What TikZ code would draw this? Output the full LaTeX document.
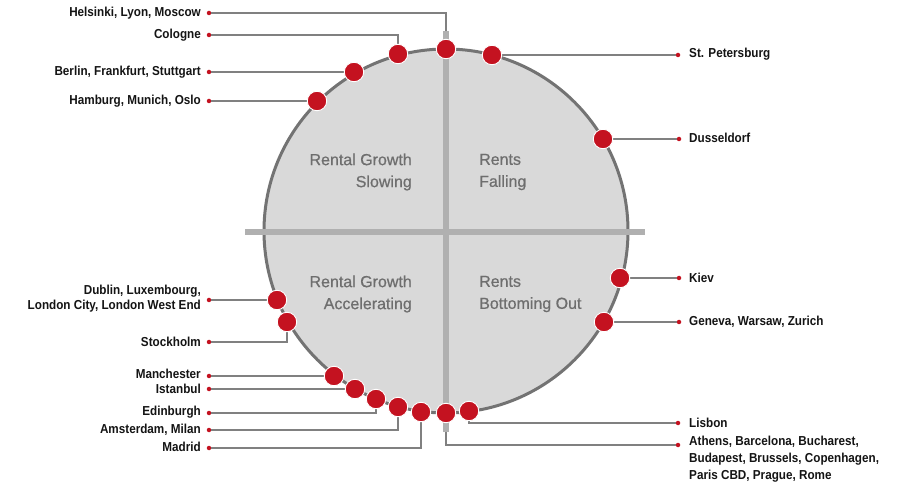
\documentclass[tikz,border=0pt]{standalone}
\usepackage{fontspec}
\setmainfont{Liberation Sans}
\newfontfamily\lblfont{Liberation Sans}[FakeStretch=0.9]
\newfontfamily\quadfont{Liberation Sans}[FakeBold=0.7]
\definecolor{dotred}{RGB}{196,18,32}
\definecolor{circfill}{RGB}{217,217,217}
\definecolor{circline}{RGB}{115,115,115}
\definecolor{barcol}{RGB}{176,176,176}
\definecolor{linecol}{RGB}{128,128,128}
\definecolor{quadtext}{RGB}{110,110,110}
\definecolor{lbltext}{RGB}{20,20,20}
\tikzset{
  bigdot/.style={circle,fill=dotred,draw=white,line width=0.9pt,minimum size=19.5pt,inner sep=0pt},
  smalldot/.style={circle,fill=dotred,minimum size=4.5pt,inner sep=0pt},
  conn/.style={draw=linecol,line width=1.4pt},
  lblL/.style={anchor=east,inner sep=0pt,align=right,text=lbltext,font=\fontsize{13}{15.5}\selectfont\lblfont\bfseries},
  lblR/.style={anchor=west,inner sep=0pt,align=left,text=lbltext,font=\fontsize{13}{17}\selectfont\lblfont\bfseries},
  quad/.style={inner sep=0pt,text=quadtext,font=\fontsize{16}{22}\selectfont\quadfont},
  bar/.style={draw=barcol,line width=6pt},
  outline/.style={draw=circline,line width=3pt}
}
\begin{document}
\begin{tikzpicture}[x=1pt,y=-1pt]
\useasboundingbox[fill=white] (0,0) rectangle (914,497);
% circle
\coordinate (C) at (446,231);
\fill[circfill] (C) circle[radius=182];
\draw[outline] (C) circle[radius=182];
% bars
\coordinate (vtop) at (446,31);
\coordinate (vbot) at (446,432);
\coordinate (hl) at (245,232);
\coordinate (hr) at (645,232);
\draw[bar] (vtop) -- (vbot);
\draw[bar] (hl) -- (hr);
% quadrant labels
\node[quad,anchor=east,align=right] (q1) at (412,172) {Rental Growth\\Slowing};
\node[quad,anchor=west,align=left] (q2) at (479,172) {Rents\\Falling};
\node[quad,anchor=east,align=right] (q3) at (412,294) {Rental Growth\\Accelerating};
\node[quad,anchor=west,align=left] (q4) at (479,294) {Rents\\Bottoming Out};
% dot positions on circle
\coordinate (pHel) at (446,49);
\coordinate (pCol) at (398,54);
\coordinate (pBer) at (354,72);
\coordinate (pHam) at (317,101);
\coordinate (pStp) at (492,55);
\coordinate (pDus) at (603,139);
\coordinate (pKie) at (620,278);
\coordinate (pGen) at (604,322);
\coordinate (pDub) at (277,300);
\coordinate (pSto) at (287,322);
\coordinate (pMan) at (334,376);
\coordinate (pIst) at (355,389);
\coordinate (pEdi) at (376,399);
\coordinate (pAms) at (398,407);
\coordinate (pMad) at (421,412);
\coordinate (pAth) at (446,413);
\coordinate (pLis) at (469,411);
% label dots, left
\node[smalldot] (dHel) at (209,13) {};
\node[smalldot] (dCol) at (209,35) {};
\node[smalldot] (dBer) at (209,72) {};
\node[smalldot] (dHam) at (209,101) {};
\node[smalldot] (dDub) at (209,300) {};
\node[smalldot] (dSto) at (209,342) {};
\node[smalldot] (dMan) at (209,376) {};
\node[smalldot] (dIst) at (209,389) {};
\node[smalldot] (dEdi) at (209,413) {};
\node[smalldot] (dAms) at (209,430) {};
\node[smalldot] (dMad) at (209,448) {};
% label dots, right
\node[smalldot] (dStp) at (678,55) {};
\node[smalldot] (dDus) at (679,139) {};
\node[smalldot] (dKie) at (679,278) {};
\node[smalldot] (dGen) at (679,322) {};
\node[smalldot] (dLis) at (678,423) {};
\node[smalldot] (dAth) at (678,445) {};
% connectors
\draw[conn] (dHel) -| (vtop);
\draw[conn] (dCol) -| (pCol);
\draw[conn] (dBer) -- (pBer);
\draw[conn] (dHam) -- (pHam);
\draw[conn] (dDub) -- (pDub);
\draw[conn] (pSto) |- (dSto);
\draw[conn] (dMan) -- (pMan);
\draw[conn] (dIst) -- (pIst);
\draw[conn] (pEdi) |- (dEdi);
\draw[conn] (pAms) |- (dAms);
\draw[conn] (pMad) |- (dMad);
\draw[conn] (pStp) -- (dStp);
\draw[conn] (pDus) -- (dDus);
\draw[conn] (pKie) -- (dKie);
\draw[conn] (pGen) -- (dGen);
\draw[conn] (pLis) |- (dLis);
\draw[conn] (vbot) |- (dAth);
% big dots
\foreach \p in {Hel,Col,Ber,Ham,Stp,Dus,Kie,Gen,Dub,Sto,Man,Ist,Edi,Ams,Mad,Ath,Lis}
  \node[bigdot] (b\p) at (p\p) {};
% labels left
\node[lblL] (tHel) at (201,13) {Helsinki, Lyon, Moscow};
\node[lblL] (tCol) at (201,35) {Cologne};
\node[lblL] (tBer) at (201,72) {Berlin, Frankfurt, Stuttgart};
\node[lblL] (tHam) at (201,101) {Hamburg, Munich, Oslo};
\node[lblL] (tDub) at (201,298.5) {Dublin, Luxembourg,\\London City, London West End};
\node[lblL] (tSto) at (201,342) {Stockholm};
\node[lblL] (tMan) at (201,374) {Manchester};
\node[lblL] (tIst) at (201,389) {Istanbul};
\node[lblL] (tEdi) at (201,412) {Edinburgh};
\node[lblL] (tAms) at (201,430) {Amsterdam, Milan};
\node[lblL] (tMad) at (201,447) {Madrid};
% labels right
\node[lblR] (tStp) at (689,54) {St. Petersburg};
\node[lblR] (tDus) at (689,138) {Dusseldorf};
\node[lblR] (tKie) at (689,278) {Kiev};
\node[lblR] (tGen) at (689,322) {Geneva, Warsaw, Zurich};
\node[lblR] (tLis) at (689,423) {Lisbon};
\node[lblR,anchor=north west] (tAth) at (689,436) {Athens, Barcelona, Bucharest,\\Budapest, Brussels, Copenhagen,\\Paris CBD, Prague, Rome};
\end{tikzpicture}
\end{document}
